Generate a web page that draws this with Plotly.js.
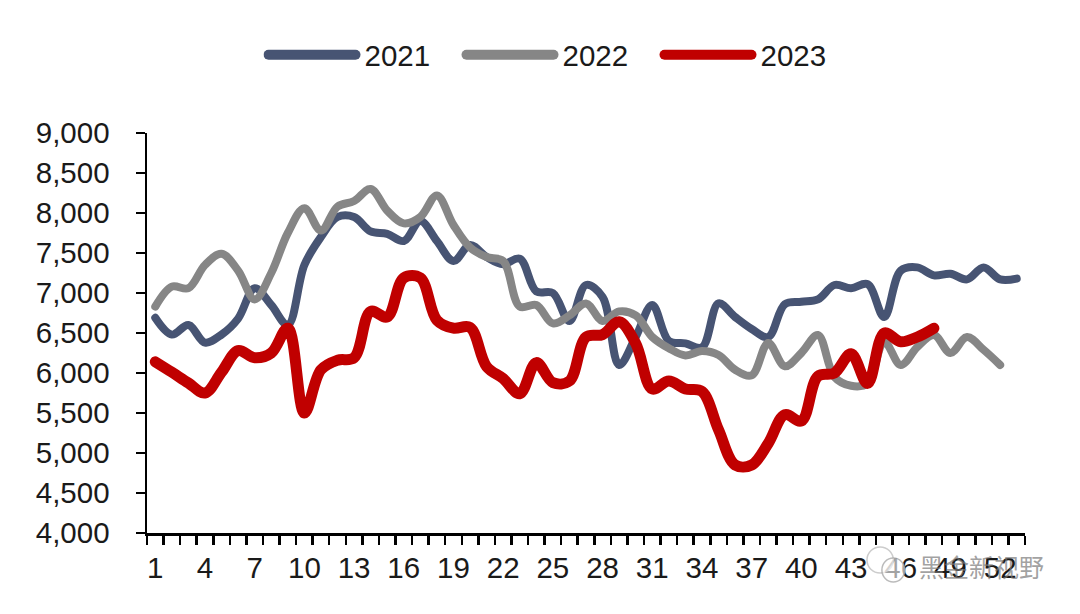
<!DOCTYPE html>
<html>
<head>
<meta charset="utf-8">
<script src="https://cdn.plot.ly/plotly-3.0.1.min.js"></script>
<style>
html,body{margin:0;padding:0;background:#fff}
.js-line{stroke-linecap:round!important}
.legend .js-line{stroke-width:10px!important}
.legendtext{transform:translateX(4px)}
</style>
</head>
<body>
<div id="chart" style="width:1080px;height:614px"></div>
<script>
const weeks = Array.from({length:53},(_, i)=>String(i+1));
const values2021 = [6690,6480,6600,6380,6480,6680,7060,6850,6600,7350,7700,7950,7950,7770,7740,7650,7900,7650,7400,7600,7450,7360,7430,7020,7000,6650,7100,6950,6100,6450,6850,6400,6370,6320,6870,6700,6550,6450,6860,6890,6920,7100,7060,7110,6700,7280,7320,7220,7240,7170,7320,7170,7180];
const values2022 = [6830,7080,7060,7350,7490,7280,6920,7250,7750,8060,7780,8080,8150,8300,8030,7870,7950,8220,7850,7570,7450,7400,6830,6850,6620,6720,6870,6650,6770,6720,6450,6310,6220,6275,6225,6040,5970,6375,6085,6250,6475,5950,5840,5870,6390,6100,6325,6475,6250,6450,6290,6100];
const values2023 = [6140,6010,5875,5750,6010,6280,6190,6250,6560,5500,6040,6160,6190,6770,6700,7190,7190,6660,6560,6570,6080,5930,5740,6130,5880,5900,6450,6480,6640,6370,5800,5900,5800,5770,5290,4850,4850,5120,5480,5400,5960,6000,6240,5870,6500,6390,6450,6560];
const yTicks = [4000,4500,5000,5500,6000,6500,7000,7500,8000,8500,9000];
const seriesNames = ['2021','2022','2023'];
const seriesColors = ['#475473','#868686','#C00000'];
const seriesWidths = [8,8,11];
const seriesValues = [values2021, values2022, values2023];

const font = {family:'"Liberation Sans", Arial, sans-serif', size:29.5, color:'#1a1a1a'};
const traces = seriesNames.map((name,i)=>({
  type:'scatter', mode:'lines', name,
  x:weeks.slice(0,seriesValues[i].length), y:seriesValues[i],
  line:{color:seriesColors[i], width:seriesWidths[i], shape:'spline', smoothing:1},
  hoverinfo:'skip'
}));
const layout = {
  width:1080, height:614,
  margin:{l:147,r:55,t:133,b:81,autoexpand:false},
  paper_bgcolor:'#fff', plot_bgcolor:'#fff',
  font,
  showlegend:true,
  legend:{orientation:'h', x:0.1327, xanchor:'left', y:1.195, yanchor:'middle',
    itemwidth:87, itemsizing:'trace', font, traceorder:'normal', tracegroupgap:0,
    entrywidth:96, entrywidthmode:'pixels'},
  xaxis:{type:'category', categoryorder:'array', categoryarray:weeks, tickson:'boundaries',
    dtick:1, ticklabelstep:3, ticks:'outside', ticklen:9, tickwidth:2.5, tickcolor:'#000',
    showline:true, linecolor:'#000', linewidth:2.5, showgrid:false, zeroline:false,
    tickangle:0, tickfont:font, range:[-0.5,52.5], ticklabelstandoff:7},
  yaxis:{range:[4000,9000], tickvals:yTicks, tickformat:',d', ticks:'outside', ticklen:9, tickwidth:2.5,
    tickcolor:'#000', showline:true, linecolor:'#000', linewidth:2.5, showgrid:false, zeroline:false,
    tickfont:font, ticklabelstandoff:20},
  annotations:[{xref:'paper',yref:'paper',x:1.024,y:-0.083,xanchor:'right',yanchor:'middle',showarrow:false,
    text:'黑金新视野', font:{family:'"Noto Sans CJK SC", sans-serif', size:25, color:'rgba(120,120,120,0.7)'}}],
  shapes:[
    {type:'circle',xref:'paper',yref:'paper',x0:0.820,x1:0.850,y0:-0.1,y1:-0.035,line:{color:'rgba(170,170,170,0.6)',width:1.5},fillcolor:'rgba(255,255,255,0.5)'},
    {type:'circle',xref:'paper',yref:'paper',x0:0.837,x1:0.863,y0:-0.1225,y1:-0.0625,line:{color:'rgba(170,170,170,0.8)',width:1.5},fillcolor:'rgba(255,255,255,0.6)'}
  ]
};
Plotly.newPlot('chart', traces, layout, {displayModeBar:false, staticPlot:true});
</script>
</body>
</html>
